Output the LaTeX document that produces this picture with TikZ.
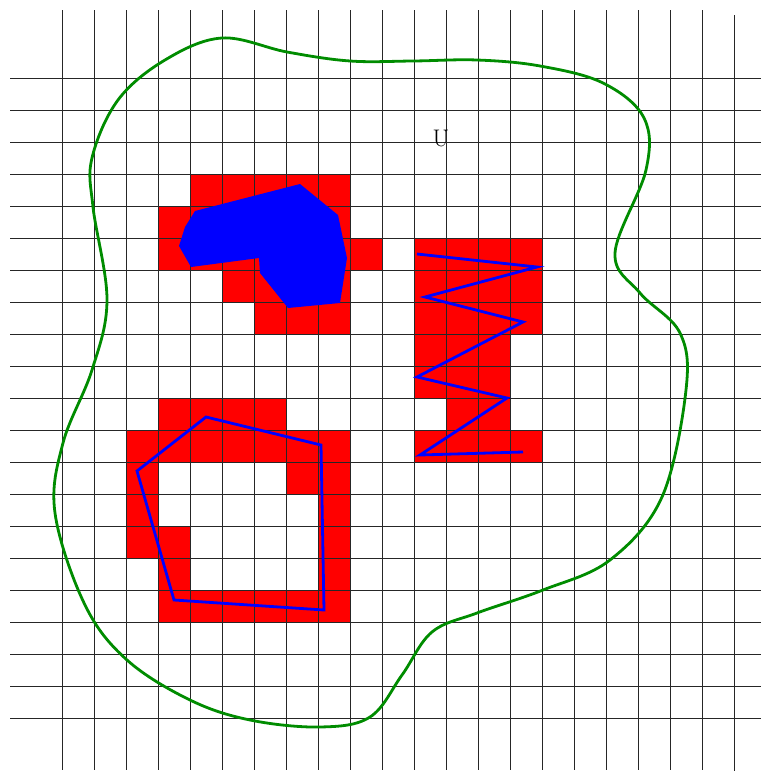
\documentclass[tikz,border=0pt]{standalone}
\usepackage{fontspec}
\begin{document}
\begin{tikzpicture}[x=1pt,y=-1pt,
  gridline/.style={line width=1pt, black!85},
  redcell/.style={fill=red},
  blueline/.style={draw=blue, line width=2.8pt, line join=miter},
  greenline/.style={draw={rgb,255:red,0;green,140;blue,0}, line width=2.8pt},
  lbl/.style={font=\fontsize{24}{28}\selectfont, inner sep=0pt}]
\useasboundingbox (0,0) rectangle (761,771);
\newcommand{\rc}[2]{\fill[redcell] ({62+32*#1},{78+32*#2}) rectangle ++(32,32);}
% top-left blob
\foreach \i in {4,...,8} {\rc{\i}{3}}
\foreach \i in {3,...,8} {\rc{\i}{4}}
\foreach \i in {3,...,9} {\rc{\i}{5}}
\foreach \i in {5,...,8} {\rc{\i}{6}}
\foreach \i in {6,...,8} {\rc{\i}{7}}
% right blob
\foreach \j in {5,6,7,11} {\foreach \i in {11,...,14} {\rc{\i}{\j}}}
\foreach \j in {8,9} {\foreach \i in {11,...,13} {\rc{\i}{\j}}}
\foreach \i in {12,13} {\rc{\i}{10}}
% bottom-left ring
\foreach \i in {3,...,6} {\rc{\i}{10}}
\foreach \i in {2,...,8} {\rc{\i}{11}}
\foreach \i in {2,7,8} {\rc{\i}{12}}
\foreach \i in {2,8} {\rc{\i}{13}}
\foreach \i in {2,3,8} {\rc{\i}{14}}
\foreach \i in {3,8} {\rc{\i}{15}}
\foreach \i in {3,...,8} {\rc{\i}{16}}
% grid
\foreach \k in {0,...,20} {\coordinate (hl\k) at (10,{78+32*\k}); \coordinate (hr\k) at (761,{78+32*\k}); \draw[gridline] (hl\k) -- (hr\k);}
\foreach \k in {0,...,20} {\coordinate (vt\k) at ({62+32*\k},10); \coordinate (vb\k) at ({62+32*\k},770); \draw[gridline] (vt\k) -- (vb\k);}
\coordinate (vt21) at (734,15); \coordinate (vb21) at (734,771);
\draw[gridline] (vt21) -- (vb21);
% blue filled shape
\fill[blue] (195,211) -- (300,184) -- (338,215) -- (347,258) -- (340,303) -- (288,308) -- (260,273) -- (259,258) -- (191,267) -- (179,246) -- (185,227) -- cycle;
% zigzag
\draw[blueline] (417,254) -- (537,267) -- (425,297) -- (523,322) -- (417,377) -- (507,398) -- (420,455) -- (523,452);
% pentagon
\draw[blueline] (206,417) -- (321,445) -- (324,610) -- (174,600) -- (137,471) -- cycle;
% green boundary
\draw[greenline] plot[smooth cycle, tension=0.6] coordinates {
 (222,38) (287,52) (350,61) (413,61) (477,60) (540,66) (603,83) (644,118) (646,170) (615,253) (640,293) (680,333) (686,390) (662,497) (610,560)
 (543,590) (477,613) (432,632) (402,675) (370,717) (320,727) (250,720) (190,700) (127,660) (85,605) (55,513) (63,443) (92,370) (107,300) (93,207) (92,158) (118,100) (165,60)};
\node[lbl] (U) at (441,138) {U};
\end{tikzpicture}
\end{document}
